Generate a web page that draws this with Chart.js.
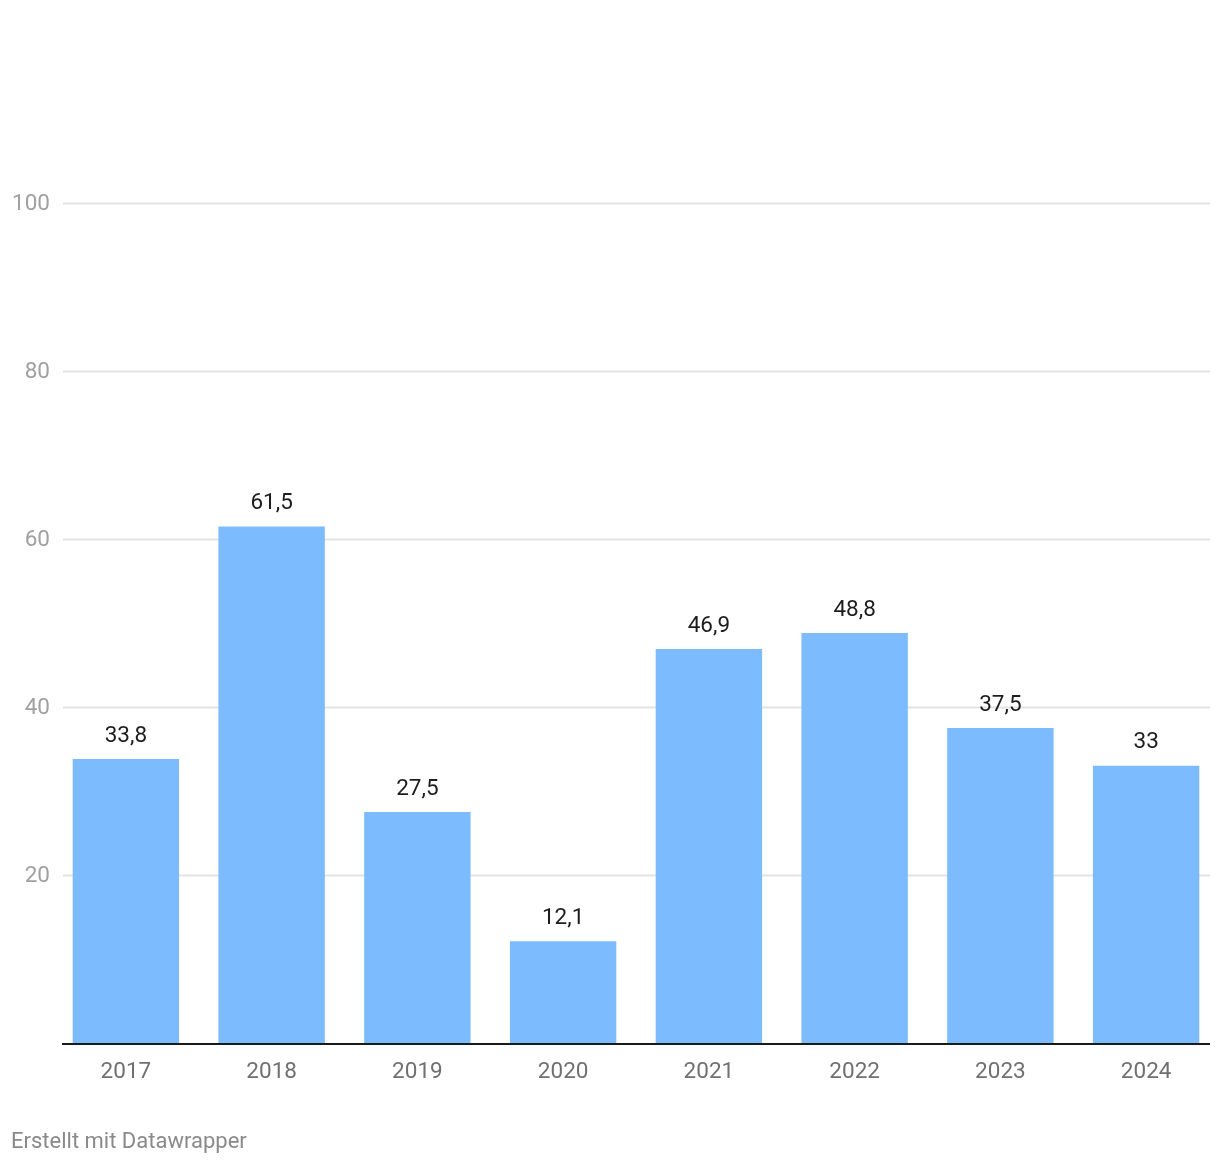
<!DOCTYPE html>
<html lang="de">
<head>
<meta charset="utf-8">
<script src="https://cdn.jsdelivr.net/npm/chart.js@4.4.1/dist/chart.umd.min.js"></script>
<style>
  html, body { margin: 0; padding: 0; background: #fff; }
  #wrap { position: relative; width: 1220px; height: 1166px; }
  #footer {
    position: absolute; left: 11px; top: 1128px;
    font-family: Roboto, sans-serif; font-size: 22px; color: #8a8a8a;
  }
</style>
</head>
<body>
<div id="wrap">
  <canvas id="chart" width="1220" height="1166"></canvas>
  <div id="footer">Erstellt mit Datawrapper</div>
</div>
<script>
// Data
const years = ['2017', '2018', '2019', '2020', '2021', '2022', '2023', '2024'];
const values = [33.8, 61.5, 27.5, 12.1, 46.9, 48.8, 37.5, 33];
const yTicks = [0, 20, 40, 60, 80, 100];

const barColor = '#7dbbff';
const fontFamily = 'Roboto, sans-serif';

// light horizontal grid lines, narrower than the bar area
const gridPlugin = {
  id: 'grid',
  beforeDatasetsDraw(chart) {
    const { ctx } = chart;
    const y = chart.scales.y;
    ctx.save();
    ctx.strokeStyle = '#e3e3e3';
    ctx.lineWidth = 2;
    yTicks.forEach(v => {
      if (v === 0) return;
      const py = Math.round(y.getPixelForValue(v)) + 0.5;
      ctx.beginPath();
      ctx.moveTo(63, py);
      ctx.lineTo(1210, py);
      ctx.stroke();
    });
    ctx.restore();
  }
};

// baseline + value labels above bars
const labelPlugin = {
  id: 'labels',
  afterDatasetsDraw(chart) {
    const { ctx } = chart;
    const y = chart.scales.y;
    const meta = chart.getDatasetMeta(0);
    ctx.save();
    ctx.strokeStyle = '#1a1a1a';
    ctx.lineWidth = 2;
    const by = y.getPixelForValue(0) + 1;
    ctx.beginPath();
    ctx.moveTo(62, by);
    ctx.lineTo(1210, by);
    ctx.stroke();

    ctx.fillStyle = '#1d1d1d';
    ctx.font = '22.5px ' + fontFamily;
    ctx.textAlign = 'center';
    ctx.textBaseline = 'middle';
    meta.data.forEach((bar, i) => {
      const txt = String(values[i]).replace('.', ',');
      ctx.fillText(txt, bar.x, bar.y - 23);
    });
    ctx.restore();
  }
};

new Chart(document.getElementById('chart'), {
  type: 'bar',
  data: {
    labels: years,
    datasets: [{
      data: values,
      backgroundColor: barColor,
      borderWidth: 0,
      barPercentage: 0.73,
      categoryPercentage: 1
    }]
  },
  options: {
    responsive: false,
    animation: false,
    layout: { padding: { top: 203, right: 1, bottom: 0, left: 0 } },
    plugins: { legend: { display: false }, tooltip: { enabled: false } },
    scales: {
      x: {
        offset: true,
        grid: { display: false, drawTicks: false },
        border: { display: false },
        ticks: {
          color: '#707070',
          font: { family: fontFamily, size: 22.5 },
          padding: 16
        },
        afterFit(scale) { scale.height = 123; }
      },
      y: {
        min: 0,
        max: 100,
        afterBuildTicks(scale) { scale.ticks = yTicks.map(v => ({ value: v })); },
        grid: { display: false, drawTicks: false },
        border: { display: false },
        ticks: {
          color: '#a0a0a0',
          font: { family: fontFamily, size: 22.5 },
          padding: 3,
          labelOffset: 1.5,
          callback: v => (v === 0 ? '' : v)
        },
        afterFit(scale) { scale.width = 53; }
      }
    }
  },
  plugins: [gridPlugin, labelPlugin]
});
</script>
</body>
</html>
